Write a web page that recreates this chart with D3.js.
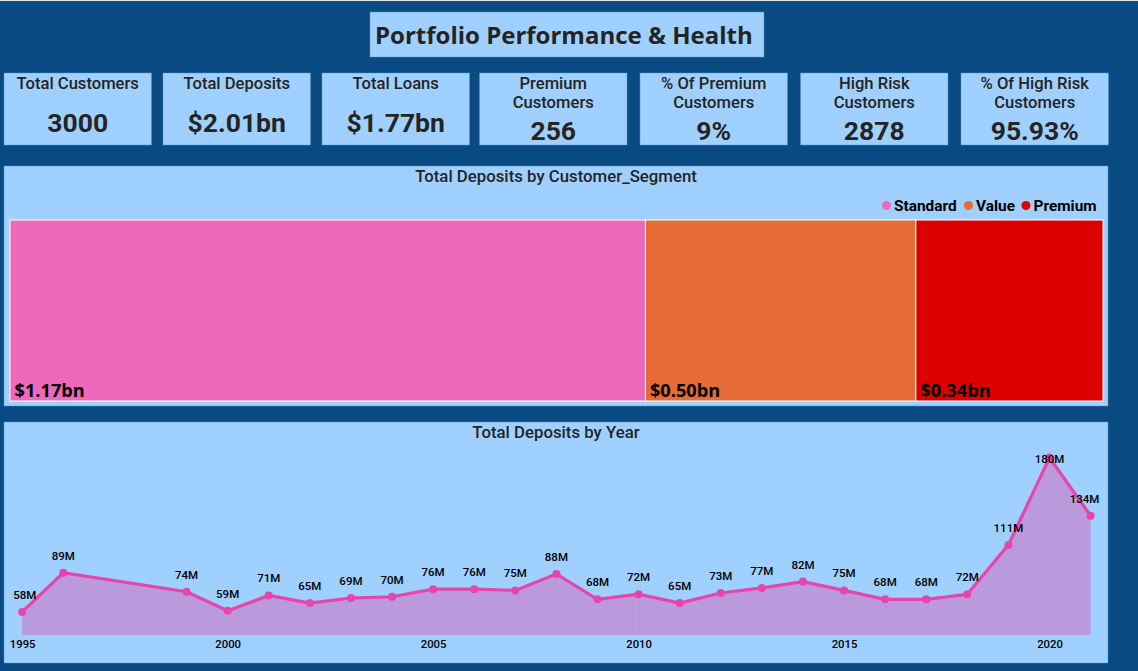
<!DOCTYPE html>
<html>
<head>
<meta charset="utf-8">
<title>Portfolio Performance & Health</title>
<script src="https://cdn.jsdelivr.net/npm/d3@7"></script>
<style>
  html, body { margin: 0; padding: 0; background: #0a4a82; overflow: hidden; }
  svg { display: block; }
</style>
</head>
<body>
<div id="chart"></div>
<script>
// DATA
var cardTitles = [
  ["Total Customers"],
  ["Total Deposits"],
  ["Total Loans"],
  ["Premium", "Customers"],
  ["% Of Premium", "Customers"],
  ["High Risk", "Customers"],
  ["% Of High Risk", "Customers"]
];
var cardValues = ["3000", "$2.01bn", "$1.77bn", "256", "9%", "2878", "95.93%"];

var segments = ["Standard", "Value", "Premium"];
var segmentDeposits = [1.168, 0.497, 0.344];

var years = [1995, 1996, 1999, 2000, 2001, 2002, 2003, 2004, 2005, 2006, 2007, 2008, 2009,
  2010, 2011, 2012, 2013, 2014, 2015, 2016, 2017, 2018, 2019, 2020, 2021];
var yearDeposits = [58, 89, 74, 59, 71, 65, 69, 70, 76, 76, 75, 88, 68,
  72, 65, 73, 77, 82, 75, 68, 68, 72, 111, 180, 134];
var yearTicks = [1995, 2000, 2005, 2010, 2015, 2020];

// GLOBAL VARIABLES
var w = 1138;
var h = 671;
var panelFill = "#9fd0ff";
var ink = "#252423";
var din = "Roboto, sans-serif";
var segoe = "'Open Sans', sans-serif";

var svg = d3.select("#chart").append("svg").attr("width", w).attr("height", h);

svg.append("rect").attr("width", w).attr("height", h).attr("fill", "#0a4a82");
svg.append("rect").attr("width", w).attr("height", 1).attr("fill", "#dfe9f2");

function panel(x, y, width, height) {
  svg.append("rect")
    .attr("x", x).attr("y", y)
    .attr("width", width).attr("height", height)
    .attr("fill", panelFill)
    .attr("stroke", "#5b93cc")
    .attr("stroke-opacity", 0.6)
    .attr("stroke-width", 0.8);
}

// HEADER
panel(370, 12, 394, 45);
svg.append("text")
  .attr("x", 375).attr("y", 44)
  .attr("font-family", segoe)
  .attr("font-weight", 700)
  .attr("font-size", "24px")
  .attr("fill", ink)
  .text("Portfolio Performance & Health");

// KPI CARDS
var cardLefts = [4, 163, 322, 479.5, 640, 800.5, 961];
var cardWidth = 147.5;

cardValues.forEach(function(value, i) {
  var cx = cardLefts[i] + cardWidth / 2;
  var lines = cardTitles[i];
  panel(cardLefts[i], 73, cardWidth, 72);
  lines.forEach(function(line, j) {
    svg.append("text")
      .attr("x", cx).attr("y", 89 + j * 19)
      .attr("text-anchor", "middle")
      .attr("font-family", din)
      .attr("font-weight", 500)
      .attr("font-size", "16.6px")
      .attr("fill", ink)
      .text(line);
  });
  svg.append("text")
    .attr("x", cx).attr("y", lines.length > 1 ? 140 : 132)
    .attr("text-anchor", "middle")
    .attr("font-family", din)
    .attr("font-weight", 700)
    .attr("font-size", "26.5px")
    .attr("fill", ink)
    .text(value);
});

// TOTAL DEPOSITS BY SEGMENT
panel(4, 166, 1104, 240);
svg.append("text")
  .attr("x", 556).attr("y", 182)
  .attr("text-anchor", "middle")
  .attr("font-family", din)
  .attr("font-weight", 500)
  .attr("font-size", "16.8px")
  .attr("fill", ink)
  .text("Total Deposits by Customer_Segment");

var segmentColor = d3.scaleOrdinal().domain(segments).range(["#ee69b9", "#e66c37", "#de0000"]);

// legend
var legendDots = [886.5, 968.5, 1026];
segments.forEach(function(name, i) {
  svg.append("circle")
    .attr("cx", legendDots[i]).attr("cy", 205.5).attr("r", 4.5)
    .attr("fill", segmentColor(name));
  svg.append("text")
    .attr("x", legendDots[i] + 7.5).attr("y", 211)
    .attr("font-family", din)
    .attr("font-weight", 700)
    .attr("font-size", "15.4px")
    .attr("fill", "#000")
    .text(name);
});

// blocks
var segmentRoot = d3.hierarchy({children: segments.map(function(name, i) {
  return {name: name, value: segmentDeposits[i]};
})}).sum(function(d) { return d.value; });

d3.treemap()
  .tile(d3.treemapDice)
  .size([1093, 181])(segmentRoot);

var blocks = svg.append("g")
  .attr("transform", "translate(10,220)")
  .selectAll("g")
  .data(segmentRoot.children)
  .enter()
  .append("g");

blocks.append("rect")
  .attr("x", function(d) { return d.x0; })
  .attr("y", function(d) { return d.y0; })
  .attr("width", function(d) { return d.x1 - d.x0; })
  .attr("height", function(d) { return d.y1 - d.y0; })
  .attr("fill", function(d) { return segmentColor(d.data.name); })
  .attr("stroke", "#fff")
  .attr("stroke-width", 1);

blocks.append("text")
  .attr("x", function(d) { return d.x0 + 4.5; })
  .attr("y", 177)
  .attr("font-family", segoe)
  .attr("font-weight", 700)
  .attr("font-size", "18.2px")
  .attr("fill", "#000")
  .text(function(d) { return "$" + d3.format(".2f")(d.data.value) + "bn"; });

// TOTAL DEPOSITS BY YEAR
panel(4, 422, 1104, 241);
svg.append("text")
  .attr("x", 556).attr("y", 438)
  .attr("text-anchor", "middle")
  .attr("font-family", din)
  .attr("font-weight", 500)
  .attr("font-size", "16.8px")
  .attr("fill", ink)
  .text("Total Deposits by Year");

var xScale = d3.scaleLinear().domain([1995, 2021]).range([22.2, 1090.6]);
var yScale = d3.scaleLinear().domain([39.3, 180]).range([635.6, 457.6]);

var xAxis = d3.axisBottom()
  .scale(xScale)
  .tickValues(yearTicks)
  .tickSize(-178)
  .tickPadding(5)
  .tickFormat(d3.format("d"));

var axisGroup = svg.append("g")
  .attr("transform", "translate(0,635)")
  .call(xAxis);
axisGroup.select(".domain").remove();
axisGroup.selectAll("line")
  .attr("stroke", "#8fb6dc")
  .attr("stroke-opacity", 0.5)
  .attr("stroke-dasharray", "1,3");
axisGroup.selectAll("text")
  .attr("font-family", din)
  .attr("font-weight", 500)
  .attr("font-size", "11.3px")
  .attr("fill", "#000");

var lineData = years.map(function(year, i) {
  return {year: year, value: yearDeposits[i]};
});

var area = d3.area()
  .x(function(d) { return xScale(d.year); })
  .y0(635)
  .y1(function(d) { return yScale(d.value); });

var line = d3.line()
  .x(function(d) { return xScale(d.year); })
  .y(function(d) { return yScale(d.value); });

svg.append("path")
  .datum(lineData)
  .attr("d", area)
  .attr("fill", "#e645ab")
  .attr("fill-opacity", 0.4);

svg.append("path")
  .datum(lineData)
  .attr("d", line)
  .attr("fill", "none")
  .attr("stroke", "#e645ab")
  .attr("stroke-width", 3.2);

svg.selectAll(".dot")
  .data(lineData)
  .enter()
  .append("circle")
  .attr("class", "dot")
  .attr("cx", function(d) { return xScale(d.year); })
  .attr("cy", function(d) { return yScale(d.value); })
  .attr("r", 4)
  .attr("fill", "#e645ab");

// labels sit above the points but get pushed back inside the plot at the edges
svg.selectAll(".label")
  .data(lineData)
  .enter()
  .append("text")
  .attr("class", "label")
  .attr("x", function(d) { return Math.min(Math.max(xScale(d.year), 24.7), 1084.5); })
  .attr("y", function(d) { return Math.max(yScale(d.value) - 17, 459) + 4; })
  .attr("text-anchor", "middle")
  .attr("font-family", din)
  .attr("font-weight", 500)
  .attr("font-size", "11.5px")
  .attr("fill", "#000")
  .text(function(d) { return d.value + "M"; });
</script>
</body>
</html>
